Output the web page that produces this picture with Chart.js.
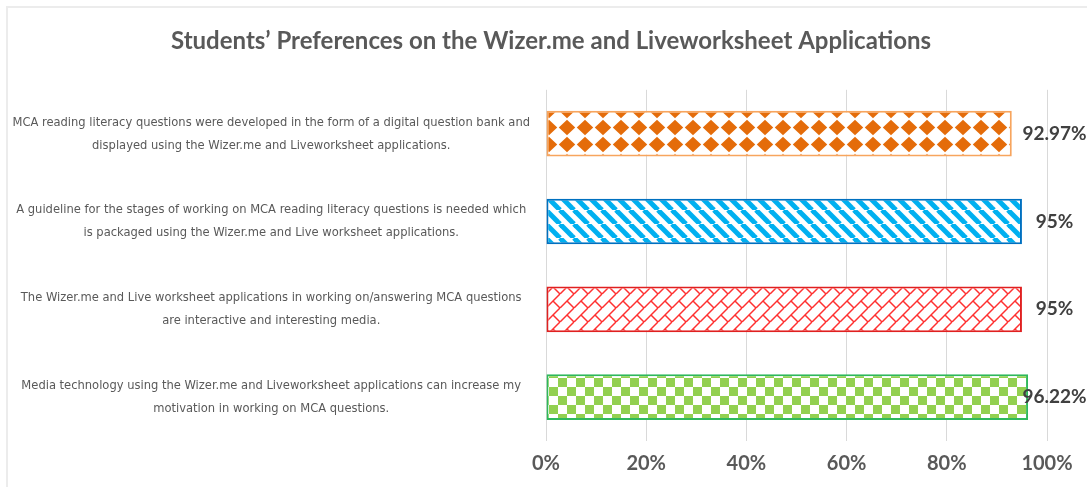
<!DOCTYPE html>
<html>
<head>
<meta charset="utf-8">
<script src="https://cdn.jsdelivr.net/npm/chart.js@4.4.1/dist/chart.umd.min.js"></script>
<style>
  body { margin: 0; background: #fff; }
  #frame { position: absolute; left: 6px; top: 6px; width: 1200px; height: 600px; border: 2px solid #ececec; }
  #wrap { position: absolute; left: 0; top: 0; width: 1087px; height: 487px; }
</style>
</head>
<body>
<div id="frame"></div>
<div id="wrap"><canvas id="chart"></canvas></div>
<script>
// data
const titleText = 'Students\u2019 Preferences on the Wizer.me and Liveworksheet Applications';
const statements = [
    ['MCA reading literacy questions were developed in the form of a digital question bank and',
     'displayed using the Wizer.me and Liveworksheet applications.'],
    ['A guideline for the stages of working on MCA reading literacy questions is needed which',
     'is packaged using the Wizer.me and Live worksheet applications.'],
    ['The Wizer.me and Live worksheet applications in working on/answering MCA questions',
     'are interactive and interesting media.'],
    ['Media technology using the Wizer.me and Liveworksheet applications can increase my',
     'motivation in working on MCA questions.']
];
const percentages = [92.97, 95, 95, 96.22];
const valueLabels = ['92.97%', '95%', '95%', '96.22%'];
const xTicks = [0, 20, 40, 60, 80, 100];

// fill patterns, drawn on small tiles
function makeTile(w, h, draw) {
    const c = document.createElement('canvas');
    c.width = w;
    c.height = h;
    const g = c.getContext('2d');
    g.fillStyle = '#fff';
    g.fillRect(0, 0, w, h);
    draw(g);
    return g.createPattern(c, 'repeat');
}

const diamonds = makeTile(18, 17, g => {
    g.fillStyle = '#E46C0A';
    g.beginPath();
    g.moveTo(9, 0.8);
    g.lineTo(17.2, 8.5);
    g.lineTo(9, 16.2);
    g.lineTo(0.8, 8.5);
    g.closePath();
    g.fill();
});

const stripes = makeTile(14, 14, g => {
    g.strokeStyle = '#00B0F0';
    g.lineWidth = 5;
    for (let x = -14; x <= 14; x += 14) {
        g.beginPath();
        g.moveTo(x, 0);
        g.lineTo(x + 14, 14);
        g.stroke();
    }
});

const bricks = makeTile(14, 14, g => {
    g.strokeStyle = '#FF3030';
    g.lineWidth = 1.5;
    for (let x = -14; x <= 14; x += 14) {
        g.beginPath();
        g.moveTo(x, 14);
        g.lineTo(x + 14, 0);
        g.stroke();
    }
    g.beginPath();
    g.moveTo(7, 7);
    g.lineTo(14, 14);
    g.moveTo(-7, 7);
    g.lineTo(0, 14);
    g.moveTo(7, -7);
    g.lineTo(14, 0);
    g.stroke();
});

const checks = makeTile(18, 18, g => {
    g.fillStyle = '#92D050';
    g.fillRect(0, 0, 9, 9);
    g.fillRect(9, 9, 9, 9);
});

// value labels to the right of the bars
const valueLabelPlugin = {
    id: 'valueLabels',
    afterLayout(chart) {
        // let the long category labels use the left margin too (no clipping)
        chart.scales.y.left = 0;
    },
    afterDatasetsDraw(chart) {
        const ctx = chart.ctx;
        const meta = chart.getDatasetMeta(0);
        const x = chart.scales.x.getPixelForValue(101.5);
        ctx.save();
        ctx.font = 'bold 19px Lato';
        ctx.fillStyle = '#404040';
        ctx.textAlign = 'center';
        ctx.textBaseline = 'middle';
        meta.data.forEach((bar, i) => {
            ctx.fillText(valueLabels[i], x, bar.y);
        });
        ctx.restore();
    }
};

new Chart(document.getElementById('chart'), {
    type: 'bar',
    data: {
        labels: statements,
        datasets: [{
            data: percentages,
            backgroundColor: [diamonds, stripes, bricks, checks],
            borderColor: ['#F7A55E', '#0070C0', '#E02020', '#2EB85C'],
            borderWidth: 2,
            borderSkipped: false,
            barPercentage: 0.52,
            categoryPercentage: 1
        }]
    },
    options: {
        indexAxis: 'y',
        responsive: true,
        maintainAspectRatio: false,
        animation: false,
        layout: { padding: { left: 15, right: 0, top: 0, bottom: 0 } },
        plugins: {
            legend: { display: false },
            tooltip: { enabled: false },
            title: {
                display: true,
                text: titleText,
                color: '#595959',
                font: { family: 'Lato', size: 24, weight: 'bold' },
                padding: { top: 27, bottom: 34 }
            }
        },
        scales: {
            x: {
                min: 0,
                max: 100,
                afterBuildTicks: scale => {
                    scale.ticks = xTicks.map(v => ({ value: v }));
                },
                afterFit: scale => {
                    scale.paddingRight = 40;
                },
                grid: { color: '#d9d9d9', drawTicks: false },
                border: { display: false },
                ticks: {
                    padding: 11,
                    color: '#595959',
                    font: { family: 'Lato', size: 20, weight: 'bold' },
                    callback: v => v + '%'
                }
            },
            y: {
                afterFit: scale => {
                    scale.width = 531;
                    scale.paddingTop = 0;
                    scale.paddingBottom = 0;
                },
                grid: { display: false },
                border: { display: false },
                ticks: {
                    crossAlign: 'center',
                    padding: 8,
                    color: '#595959',
                    font: { family: "'DejaVu Sans Condensed', 'Liberation Sans Narrow', sans-serif", size: 12.8, lineHeight: 1.8 }
                }
            }
        }
    },
    plugins: [valueLabelPlugin]
});
</script>
</body>
</html>
